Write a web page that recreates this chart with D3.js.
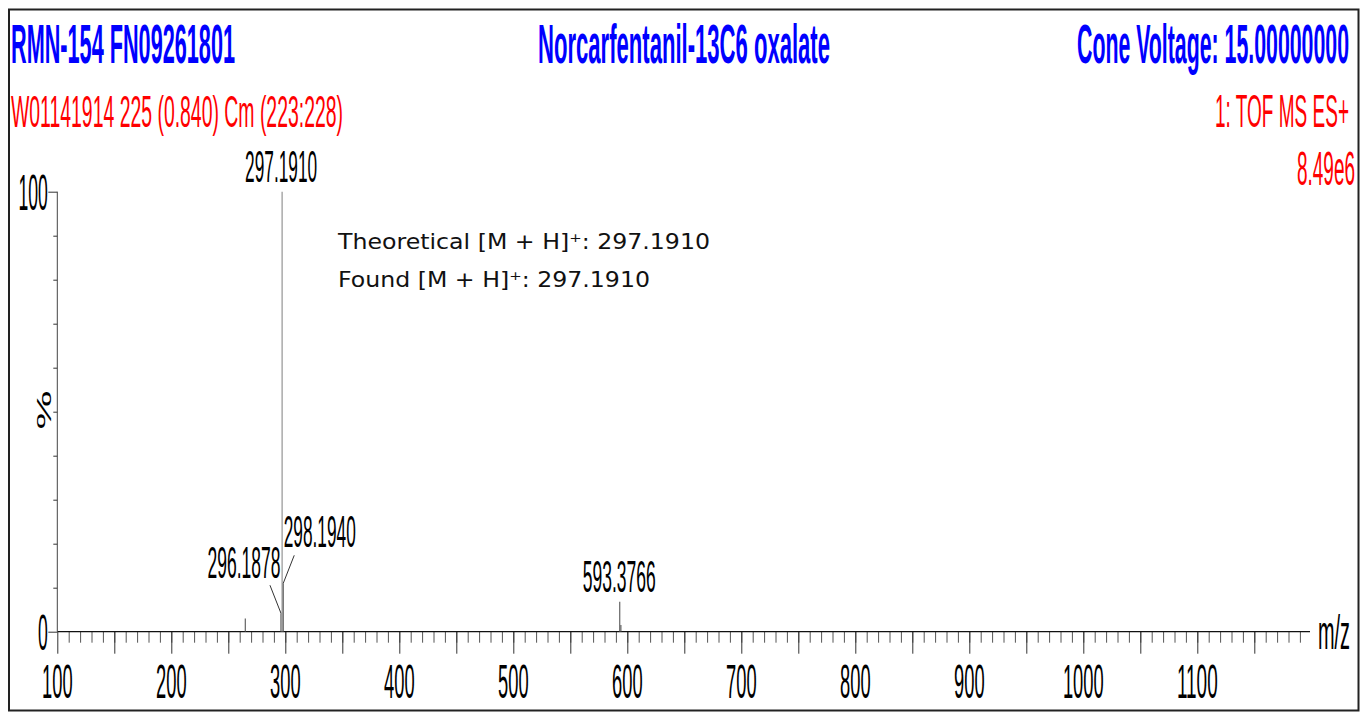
<!DOCTYPE html>
<html><head><meta charset="utf-8">
<script src="https://cdn.jsdelivr.net/npm/d3@7/dist/d3.min.js"></script>
<style>
html,body{margin:0;padding:0;background:#fff;}
svg{display:block;}
</style></head>
<body>
<svg id="chart" width="1360" height="712"></svg>
<script>
// ---- data ----
const peakMz        = [264.9, 296.1878, 297.1910, 298.1940, 593.3766, 594.38];
const peakIntensity = [3.0,   4.2,      100,      11.0,     6.8,      1.5];
const labelledMz    = [297.1910, 298.1940, 296.1878, 593.3766];
const xTickMajor    = [100,200,300,400,500,600,700,800,900,1000,1100];
const yTickLabels   = [0, 100];
const titleLeft   = "RMN-154 FN09261801";
const titleCenter = "Norcarfentanil-13C6 oxalate";
const titleRight  = "Cone Voltage: 15.00000000";
const subLeft     = "W01141914 225 (0.840) Cm (223:228)";
const subRight    = "1: TOF MS ES+";
const maxIntensity = "8.49e6";
const noteLines = ["Theoretical [M + H]\u207A: 297.1910", "Found [M + H]\u207A: 297.1910"];

// ---- layout ----
const svg = d3.select("#chart");
const x = d3.scaleLinear().domain([100, 1200]).range([57.3, 1311.3]);
const y = d3.scaleLinear().domain([0, 100]).range([631.7, 191.7]);
const NARROW = "'Liberation Sans', Arial, sans-serif";
const AX = "#333";

// border
svg.append("rect").attr("x", 9).attr("y", 9.5).attr("width", 1349.5).attr("height", 1201-500)
  .attr("fill", "none").attr("stroke", "#222").attr("stroke-width", 2);

function narrowText(g, txt, xLeft, baseline, width, size, color, bold) {
  return g.append("text").attr("x", xLeft).attr("y", baseline)
    .attr("font-family", NARROW).attr("font-size", size)
    .attr("font-weight", bold ? "bold" : "normal")
    .attr("fill", color)
    .attr("textLength", width).attr("lengthAdjust", "spacingAndGlyphs")
    .text(txt);
}

// header
narrowText(svg, titleLeft, 11, 63, 224, 56, "#0000ff", true);
narrowText(svg, titleCenter, 538, 63, 292, 56, "#0000ff", true);
narrowText(svg, titleRight, 1077, 63, 272, 56, "#0000ff", true);
narrowText(svg, subLeft, 11, 127, 332, 45, "#ff0000", false);
narrowText(svg, subRight, 1215, 127, 134, 46, "#ff0000", false);
narrowText(svg, maxIntensity, 1297, 185, 58, 48, "#ff0000", false);

// x axis: minor, major ticks
const xAxisG = svg.append("g").attr("transform", `translate(0,${y(0)})`);
xAxisG.append("g").call(d3.axisBottom(x).tickValues(d3.range(110, 1200, 10)).tickSize(11).tickFormat(""))
  .call(g => g.select(".domain").remove())
  .call(g => g.selectAll("line").attr("stroke", "#555"));
xAxisG.append("g").call(d3.axisBottom(x).tickValues(d3.range(100, 1200, 50)).tickSize(22).tickFormat(""))
  .call(g => g.select(".domain").remove())
  .call(g => g.selectAll("line").attr("stroke", AX));
xAxisG.append("line").attr("x1", x(100)).attr("x2", 1310).attr("y1", 0).attr("y2", 0)
  .attr("stroke", "#111").attr("stroke-width", 1.3);
xAxisG.selectAll("text.xl").data(xTickMajor).enter().append("text").attr("class", "xl")
  .attr("x", d => x(d) - String(d).length * 10.2 / 2).attr("y", 66.5)
  .attr("font-family", NARROW).attr("font-size", 49).attr("fill", "#000")
  .attr("textLength", d => String(d).length * 10.2).attr("lengthAdjust", "spacingAndGlyphs")
  .text(d => d);
narrowText(svg, "m/z", 1318, 649, 32, 48, "#000", false);

// y axis
const yAxisG = svg.append("g").attr("transform", `translate(${x(100)},0)`);
yAxisG.append("g").call(d3.axisLeft(y).tickValues(d3.range(10, 100, 10)).tickSize(4).tickFormat(""))
  .call(g => g.select(".domain").remove())
  .call(g => g.selectAll("line").attr("stroke", AX));
yAxisG.append("g").call(d3.axisLeft(y).tickValues(yTickLabels).tickSize(9).tickFormat(""))
  .call(g => g.select(".domain").remove())
  .call(g => g.selectAll("line").attr("stroke", AX));
yAxisG.append("line").attr("x1", 0).attr("x2", 0).attr("y1", y(100)).attr("y2", y(0))
  .attr("stroke", "#444").attr("stroke-width", 1);
yAxisG.selectAll("text.yl").data(yTickLabels).enter().append("text").attr("class", "yl")
  .attr("x", d => -9.5 - String(d).length * 9.8).attr("y", d => y(d) + 18.3)
  .attr("font-family", NARROW).attr("font-size", 50).attr("fill", "#000")
  .attr("textLength", d => String(d).length * 9.8).attr("lengthAdjust", "spacingAndGlyphs")
  .text(d => d);
svg.append("text").attr("transform", "translate(44,410) rotate(-90) scale(1,0.48)")
  .attr("text-anchor", "middle").attr("dominant-baseline", "central")
  .attr("font-family", NARROW).attr("font-size", 44).attr("fill", "#000").text("%");

// peaks (sticks)
const peaks = peakMz.map((m, i) => ({mz: m, v: peakIntensity[i]}));
svg.append("g").selectAll("line").data(peaks).enter().append("line")
  .attr("x1", d => x(d.mz)).attr("x2", d => x(d.mz))
  .attr("y1", y(0)).attr("y2", d => y(d.v))
  .attr("stroke", d => d.v > 50 ? "#8a8a8a" : "#555").attr("stroke-width", 1.1);

// peak labels (offset layout: dx of label centre, dy of baseline above apex, leader)
const labelLayout = {
  "297.1910": {dx: -1, dy: -9.7, w: 72, leader: false},
  "593.3766": {dx: -0.5, dy: -10, w: 73, leader: false},
  "298.1940": {dx: 36.5, dy: -36.5, w: 72, leader: [11, -28]},
  "296.1878": {dx: -37, dy: -35, w: 73, leader: [-11, -28]}
};
const labG = svg.append("g");
labelledMz.forEach(m => {
  const key = m.toFixed(4);
  const p = peaks.find(d => d.mz === m);
  const L = labelLayout[key];
  const px = x(m), py = y(p.v);
  narrowText(labG, key, px + L.dx - L.w / 2, py + L.dy, L.w, 45, "#000", false);
  if (L.leader) {
    labG.append("line").attr("x1", px).attr("y1", py)
      .attr("x2", px + L.leader[0]).attr("y2", py + L.leader[1])
      .attr("stroke", "#333").attr("stroke-width", 1);
  }
});

// annotation
const noteWidths = [372, 312];
noteLines.forEach((t, i) => {
  svg.append("text").attr("x", 338).attr("y", 249 + i * 37.5)
    .attr("font-family", "'DejaVu Sans', Verdana, sans-serif").attr("font-size", 21)
    .attr("fill", "#111")
    .attr("textLength", noteWidths[i]).attr("lengthAdjust", "spacingAndGlyphs")
    .text(t);
});
</script>
</body></html>
